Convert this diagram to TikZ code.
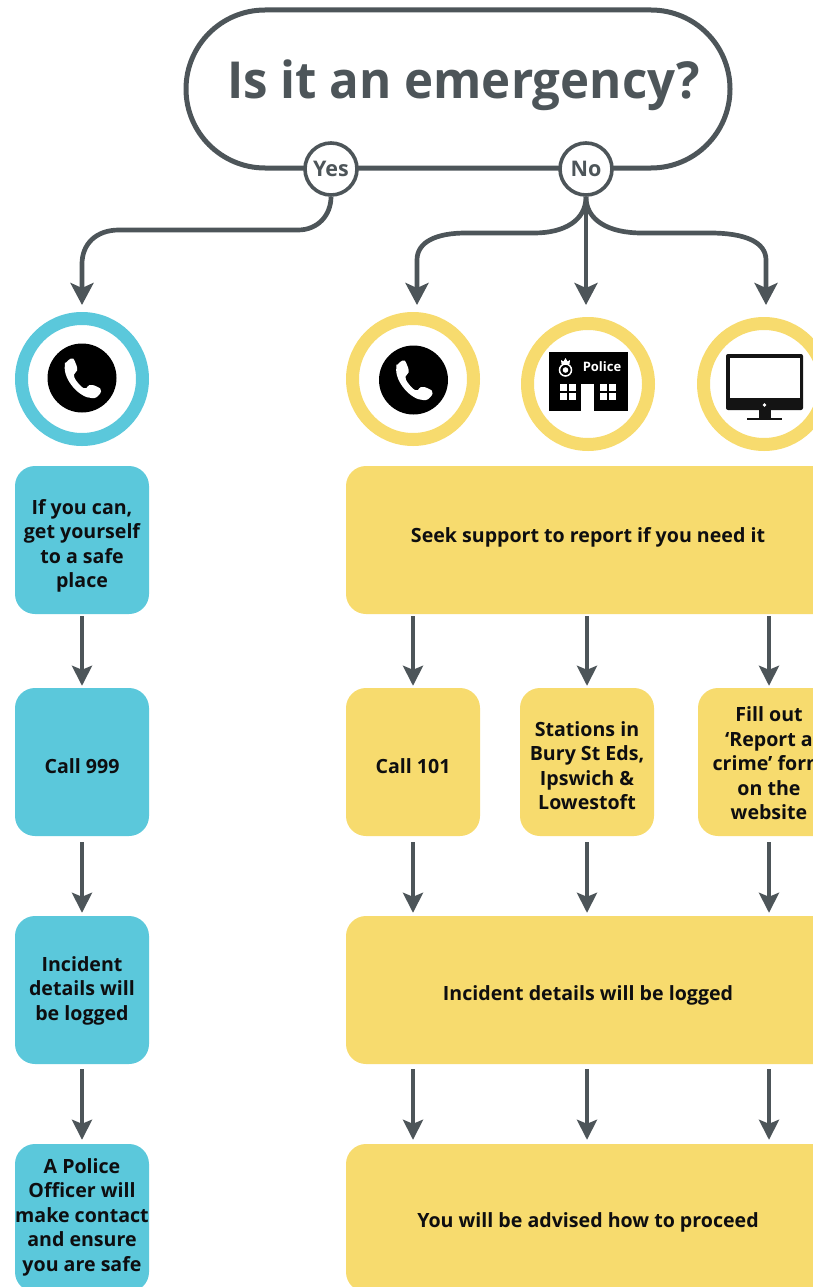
\documentclass[tikz,border=0pt]{standalone}
\usepackage{fontspec}
\setmainfont{Open Sans}
\usetikzlibrary{arrows.meta}
\definecolor{dk}{HTML}{4D5559}
\definecolor{bl}{HTML}{5BC8DB}
\definecolor{yl}{HTML}{F7DB6E}
\definecolor{tx}{HTML}{0E0E10}
\tikzset{
 box/.style={rounded corners=20pt,minimum width=134pt,minimum height=148pt,inner sep=0pt},
 bbox/.style={box,fill=bl},
 ybox/.style={box,fill=yl},
 wide/.style={ybox,minimum width=490pt},
 lbl/.style={inner sep=0pt,align=center,text=tx,font=\fontsize{19.6}{24.5}\selectfont\bfseries},
 conn/.style={draw=dk,line width=4pt,-{Stealth[length=20pt,width=20pt,inset=4pt]}},
 branch/.style={draw=dk,line width=4.7pt,-{Stealth[length=22pt,width=23pt,inset=5pt]}},
 ans/.style={circle,draw=dk,fill=white,line width=3.6pt,minimum size=52pt,inner sep=0pt,text=dk,
  font=\fontsize{21.5}{24}\selectfont\bfseries},
 ring/.style={circle,draw,fill=white,line width=13pt,minimum size=121pt,inner sep=0pt},
 phone/.pic={
  \fill[black] (0,0) circle (34.5);
  \fill[white,rounded corners=1.5pt] (-17,-14) .. controls (-15,-17) and (-12,-19) .. (-10,-20)
   .. controls (-8,-19) and (-5,-12) .. (-5,-9) .. controls (-5,-6) and (-8,-5) .. (-8,-2)
   .. controls (-7,2) and (0,10) .. (3,10) .. controls (5,10) and (6,7) .. (9,7)
   .. controls (12,7) and (18,10) .. (19,12) .. controls (19,15) and (15,20) .. (11,20)
   .. controls (-2,20) and (-19,2) .. (-17,-14) -- cycle;
 },
}
\begin{document}
\begin{tikzpicture}[x=1pt,y=-1pt]
\clip (0,0) rectangle (813,1287);
\useasboundingbox (0,0) rectangle (813,1287);
% question
\node[draw=dk,line width=5pt,rounded corners=79pt,minimum width=544pt,minimum height=158pt,inner sep=0pt] (top) at (458,89) {};
\node[text=dk,inner sep=0pt,anchor=base,font=\fontsize{51}{60}\selectfont\bfseries] (title) at (463.5,99) {\scalebox{0.965}[1]{Is it an emergency?}};
\node[ans] (yes) at (331,169) {Yes};
\node[ans] (no) at (586,169) {No};
% icons
\node[ring,draw=bl] (i1) at (82,379) {};
\node[ring,draw=yl] (i2) at (413,379) {};
\node[ring,draw=yl] (i3) at (588,384) {};
\node[ring,draw=yl] (i4) at (764,384) {};
\pic at (82,378) {phone};
\pic at (413.5,380) {phone};
% police station
\fill[black] (549,352) rectangle (628,411);
\node[text=white,inner sep=0pt,font=\fontsize{13}{14}\selectfont\bfseries] (pol) at (602,367) {Police};
\fill[white] (581,384) rectangle (594,411);
\foreach \wx in {560,600}{
 \fill[white] (\wx,384) rectangle +(7,7);
 \fill[white] (\wx+8.5,384) rectangle +(7,7);
 \fill[white] (\wx,392.5) rectangle +(7,7);
 \fill[white] (\wx+8.5,392.5) rectangle +(7,7);
}
\draw[white,line width=1.5pt] (565.5,370) circle (6);
\fill[white] (565.5,370) circle (2.8);
\fill[white] (561.5,364) -- (561,360) -- (563.5,361.5) -- (565.5,358) -- (567.5,361.5) -- (570,360) -- (569.5,364) -- cycle;
% monitor
\fill[black!92,rounded corners=2pt] (726,354) rectangle (803,410);
\fill[white] (729.5,358) rectangle (799.5,398);
\fill[white] (764.5,405) circle (1.8);
\fill[black!92] (759,409) rectangle (771,418);
\fill[black!92] (747,418) rectangle (782,420);
% column arrow anchors
\coordinate (ay) at (82,305);
\coordinate (a1) at (417,305);
\coordinate (a2) at (586,305);
\coordinate (a3) at (766,305);
% blue column
\node[bbox,label={[lbl,yshift=-6pt]center:{If you can,\\get yourself\\to a safe\\place}}] (b1) at (82,540) {};
\node[bbox,label={[lbl,yshift=-4pt]center:{Call 999}}] (b2) at (82,762) {};
\node[bbox,label={[lbl,yshift=-0.5pt]center:{Incident\\details will\\be logged}}] (b3) at (82,990) {};
\node[bbox,label={[lbl,yshift=1pt]center:{A Police\\Officer will\\make contact\\and ensure\\you are safe}}] (b4) at (82,1218) {};
% yellow
\node[wide,label={[lbl,xshift=-3pt,yshift=3pt]center:{Seek support to report if you need it}}] (y1) at (591,540) {};
\node[ybox,label={[lbl,yshift=-4pt]center:{Call 101}}] (c1) at (413,762) {};
\node[ybox,label={[lbl,yshift=-3.5pt]center:{Stations in\\Bury St Eds,\\Ipswich \&\\Lowestoft}}] (c2) at (587,762) {};
\node[ybox,minimum width=142pt,label={[lbl,yshift=-1.5pt]center:{Fill out\\‘Report a\\crime’ form\\on the\\website}}] (c3) at (769,762) {};
\node[wide,label={[lbl,xshift=-3pt,yshift=-5pt]center:{Incident details will be logged}}] (y2) at (591,990) {};
\node[wide,label={[lbl,xshift=-3pt,yshift=-4pt]center:{You will be advised how to proceed}}] (y3) at (591,1218) {};
% branches
\draw[branch] (yes.south) .. controls (331,215) and (318,230) .. (298,230) -- (119,230)
  .. controls (96,230) and (82,244) .. (82,264) -- (ay);
\draw[branch] (no.south) .. controls (586,220) and (565,233) .. (534,233) -- (466,233)
  .. controls (436,233) and (417,242) .. (417,260) -- (a1);
\draw[branch,line width=4.2pt] (no.south) -- (a2);
\draw[branch] (no.south) .. controls (586,220) and (608,233) .. (642,233) -- (710,233)
  .. controls (745,233) and (766,242) .. (766,260) -- (a3);
% verticals
\draw[conn,shorten <=2pt,shorten >=2pt] (b1.south) -- (b2.north);
\draw[conn,shorten <=6pt,shorten >=3pt] (b2.south) -- (b3.north);
\draw[conn,shorten <=5pt,shorten >=4pt] (b3.south) -- (b4.north);
\foreach \t in {c1,c2,c3}{
 \draw[conn,shorten <=2pt,shorten >=2pt] (\t.north |- y1.south) -- (\t.north);
 \draw[conn,shorten <=6pt,shorten >=3pt] (\t.south) -- (\t.south |- y2.north);
 \draw[conn,shorten <=5pt,shorten >=4pt] (\t.south |- y2.south) -- (\t.south |- y3.north);
}
\end{tikzpicture}
\end{document}
